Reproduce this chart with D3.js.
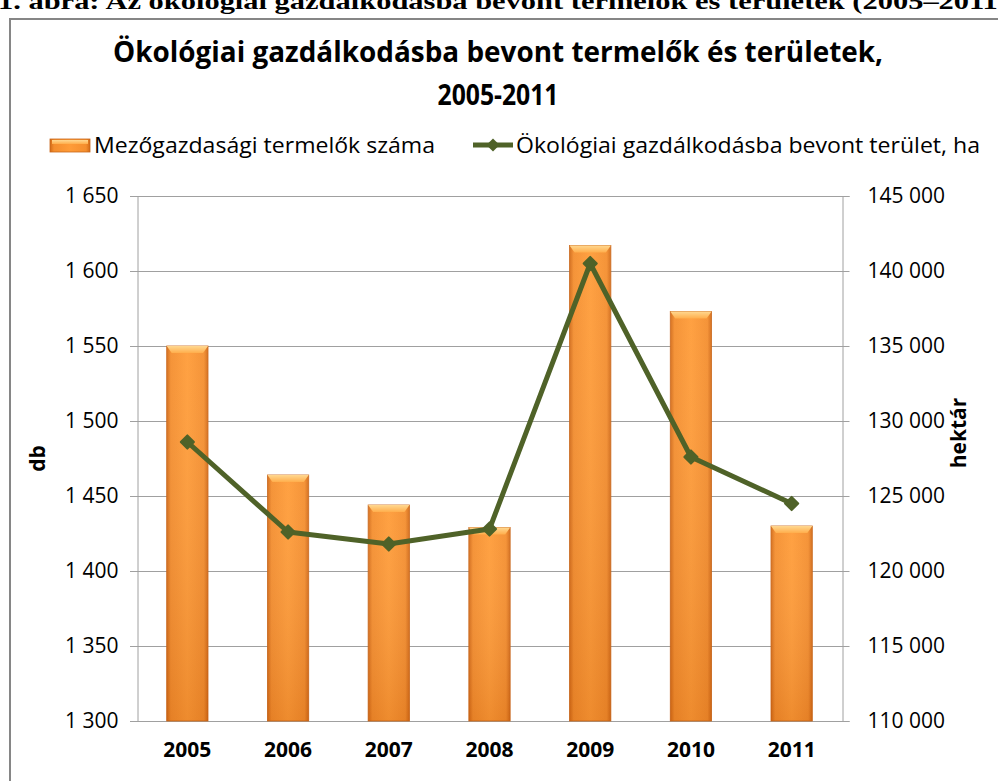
<!DOCTYPE html>
<html>
<head>
<meta charset="utf-8">
<script src="https://cdn.jsdelivr.net/npm/d3@7"></script>
<style>
  body { margin: 0; background: #fff; }
  svg { display: block; font-family: "Open Sans", sans-serif; }
</style>
</head>
<body>
<svg width="998" height="781"></svg>
<script>
const YEARS = ["2005", "2006", "2007", "2008", "2009", "2010", "2011"];
const PRODUCERS = [1550, 1464, 1444, 1429, 1617, 1573, 1430];       // db
const AREA = [128600, 122600, 121800, 122800, 140500, 127600, 124500]; // ha
const LEFT_TICKS = [1300, 1350, 1400, 1450, 1500, 1550, 1600, 1650];
const RIGHT_TICKS = [110000, 115000, 120000, 125000, 130000, 135000, 140000, 145000];

const TITLE = ["Ökológiai gazdálkodásba bevont termelők és területek,", "2005-2011"];
const LEGEND = ["Mezőgazdasági termelők száma", "Ökológiai gazdálkodásba bevont terület, ha"];

const PLOT = { left: 137, right: 842, top: 196, bottom: 721 };
const LINE_COLOR = "#4F6228";
const GRID_COLOR = "#A0A0A0";

const fmt = d3.formatLocale({ decimal: ",", thousands: "\u00a0", grouping: [3] }).format(",d");

const svg = d3.select("svg");

// gradients for the bevelled bars
const defs = svg.append("defs");
const barGrad = defs.append("linearGradient").attr("id", "barH");
[["0%", "#D26A17"], ["10%", "#F48E2E"], ["50%", "#FF9C38"], ["90%", "#F48E2E"], ["100%", "#D26A17"]]
  .forEach(s => barGrad.append("stop").attr("offset", s[0]).attr("stop-color", s[1]));
const shade = defs.append("linearGradient").attr("id", "barV").attr("x2", 0).attr("y2", 1);
shade.append("stop").attr("offset", "0%").attr("stop-color", "#fff").attr("stop-opacity", 0.05);
shade.append("stop").attr("offset", "100%").attr("stop-color", "#A04000").attr("stop-opacity", 0.18);
const bevel = defs.append("linearGradient").attr("id", "bevel").attr("x2", 0).attr("y2", 1);
bevel.append("stop").attr("offset", "0%").attr("stop-color", "#FFD890");
bevel.append("stop").attr("offset", "100%").attr("stop-color", "#FFAE4C");

// page text above the chart, cut by the crop
svg.append("text")
  .attr("x", -2).attr("y", 9)
  .attr("font-family", "'Liberation Serif', serif")
  .attr("font-weight", "bold").attr("font-size", 24)
  .attr("textLength", 1010).attr("lengthAdjust", "spacingAndGlyphs")
  .text("1. ábra: Az ökológiai gazdálkodásba bevont termelők és területek (2005–2011)");

// chart frame
svg.append("rect")
  .attr("x", 10).attr("y", 19).attr("width", 1000).attr("height", 800)
  .attr("fill", "#fff").attr("stroke", "#868686").attr("stroke-width", 2);

// title
svg.append("text")
  .attr("x", 498).attr("y", 62).attr("text-anchor", "middle")
  .attr("font-weight", "bold").attr("font-size", 28)
  .attr("textLength", 770).attr("lengthAdjust", "spacingAndGlyphs")
  .text(TITLE[0]);
svg.append("text")
  .attr("x", 498).attr("y", 105).attr("text-anchor", "middle")
  .attr("font-weight", "bold").attr("font-size", 28)
  .attr("textLength", 121).attr("lengthAdjust", "spacingAndGlyphs")
  .text(TITLE[1]);

// scales
const x = d3.scaleBand()
  .domain(YEARS)
  .range([PLOT.left, PLOT.right])
  .paddingInner(0.59)
  .paddingOuter(0.295);

const yLeft = d3.scaleLinear().domain([1300, 1650]).range([PLOT.bottom, PLOT.top]);
const yRight = d3.scaleLinear().domain([110000, 145000]).range([PLOT.bottom, PLOT.top]);

// gridlines
svg.append("g")
  .selectAll("line")
  .data(LEFT_TICKS)
  .join("line")
  .attr("x1", PLOT.left - 7).attr("x2", PLOT.right + 7)
  .attr("y1", d => Math.round(yLeft(d)) + 0.5)
  .attr("y2", d => Math.round(yLeft(d)) + 0.5)
  .attr("stroke", GRID_COLOR).attr("stroke-width", 1);

// axes
const leftAxis = svg.append("g")
  .attr("transform", `translate(${PLOT.left + 0.5},0)`)
  .call(d3.axisLeft(yLeft).tickValues(LEFT_TICKS).tickFormat(fmt).tickSize(7).tickPadding(12));
const rightAxis = svg.append("g")
  .attr("transform", `translate(${PLOT.right + 0.5},0)`)
  .call(d3.axisRight(yRight).tickValues(RIGHT_TICKS).tickFormat(fmt).tickSize(7).tickPadding(18));
[leftAxis, rightAxis].forEach(a => {
  a.select(".domain").attr("stroke", GRID_COLOR);
  a.selectAll(".tick line").attr("stroke", GRID_COLOR);
  a.selectAll("text")
    .attr("font-family", "'Open Sans', sans-serif")
    .attr("font-size", 21).attr("fill", "#000");
});

const bottomAxis = svg.append("g")
  .attr("transform", `translate(0,${PLOT.bottom + 0.5})`)
  .call(d3.axisBottom(x).tickSize(0).tickPadding(21));
bottomAxis.select(".domain").remove();
bottomAxis.selectAll("text")
  .attr("font-family", "'Open Sans', sans-serif")
  .attr("font-weight", "bold").attr("font-size", 21).attr("fill", "#000");

// axis titles
svg.append("text")
  .attr("transform", `translate(45,${(PLOT.top + PLOT.bottom) / 2}) rotate(-90)`)
  .attr("text-anchor", "middle")
  .attr("font-weight", "bold").attr("font-size", 21)
  .text("db");
svg.append("text")
  .attr("transform", `translate(966,433) rotate(-90)`)
  .attr("text-anchor", "middle")
  .attr("font-weight", "bold").attr("font-size", 21)
  .text("hektár");

// bars
const bars = svg.append("g")
  .selectAll("g")
  .data(YEARS.map((year, i) => ({ year, value: PRODUCERS[i] })))
  .join("g");

bars.append("rect")
  .attr("x", d => x(d.year))
  .attr("y", d => yLeft(d.value))
  .attr("width", x.bandwidth())
  .attr("height", d => PLOT.bottom - yLeft(d.value))
  .attr("fill", "url(#barH)")
  .attr("stroke", "#C9661A").attr("stroke-width", 0.8);

bars.append("rect")
  .attr("x", d => x(d.year))
  .attr("y", d => yLeft(d.value))
  .attr("width", x.bandwidth())
  .attr("height", d => PLOT.bottom - yLeft(d.value))
  .attr("fill", "url(#barV)");

bars.append("path")
  .attr("d", d => {
    const x0 = x(d.year), x1 = x0 + x.bandwidth(), t = yLeft(d.value);
    return `M${x0},${t}L${x1},${t}L${x1 - 5},${t + 7}L${x0 + 5},${t + 7}Z`;
  })
  .attr("fill", "url(#bevel)");

// line series
const linePts = YEARS.map((year, i) => [x(year) + x.bandwidth() / 2, yRight(AREA[i])]);

svg.append("path")
  .attr("d", d3.line()(linePts))
  .attr("fill", "none")
  .attr("stroke", LINE_COLOR).attr("stroke-width", 5)
  .attr("stroke-linejoin", "round");

const diamond = d3.symbol().type(d3.symbolDiamond2).size(110);
svg.append("g")
  .selectAll("path")
  .data(linePts)
  .join("path")
  .attr("transform", d => `translate(${d[0]},${d[1]})`)
  .attr("d", diamond)
  .attr("fill", LINE_COLOR)
  .attr("stroke", LINE_COLOR).attr("stroke-width", 2).attr("stroke-linejoin", "round");

// legend
const legend = svg.append("g");
legend.append("rect")
  .attr("x", 50).attr("y", 139).attr("width", 40).attr("height", 13)
  .attr("fill", "url(#barH)").attr("stroke", "#C9661A").attr("stroke-width", 0.8);
legend.append("rect")
  .attr("x", 52).attr("y", 140).attr("width", 36).attr("height", 4)
  .attr("fill", "url(#bevel)");
legend.append("text")
  .attr("x", 94).attr("y", 153)
  .attr("font-size", 21)
  .attr("textLength", 341).attr("lengthAdjust", "spacingAndGlyphs")
  .text(LEGEND[0]);

legend.append("line")
  .attr("x1", 473).attr("x2", 513).attr("y1", 145).attr("y2", 145)
  .attr("stroke", LINE_COLOR).attr("stroke-width", 5);
legend.append("path")
  .attr("transform", "translate(493,145)")
  .attr("d", diamond)
  .attr("fill", LINE_COLOR);
legend.append("text")
  .attr("x", 516).attr("y", 153)
  .attr("font-size", 21)
  .attr("textLength", 464).attr("lengthAdjust", "spacingAndGlyphs")
  .text(LEGEND[1]);
</script>
</body>
</html>
